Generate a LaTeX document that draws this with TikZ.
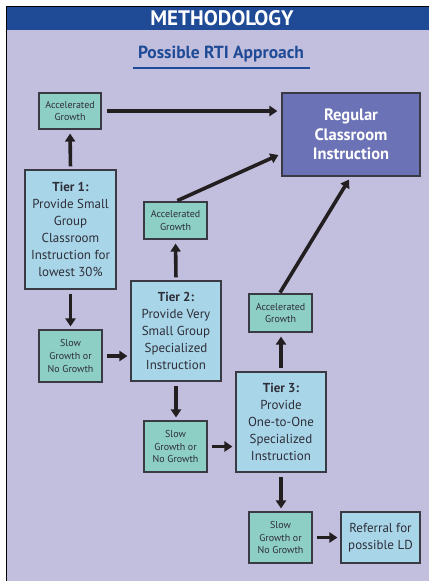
\documentclass[tikz,border=0pt]{standalone}
\usepackage{fontspec}
\setmainfont{PT Sans}
\usetikzlibrary{arrows.meta}
\definecolor{bgc}{HTML}{C2BEDD}
\definecolor{hdr}{HTML}{1F4B96}
\definecolor{tierc}{HTML}{A8D5E8}
\definecolor{growc}{HTML}{8DCFC4}
\definecolor{regc}{HTML}{6B72B5}
\definecolor{edgec}{HTML}{3A3A45}
\definecolor{txtc}{HTML}{2E2E38}
\definecolor{arrc}{HTML}{231F20}
\tikzset{
  tierbox/.style={draw=edgec, line width=1.1pt, fill=tierc, text=txtc, align=center,
    inner sep=0pt, font=\fontsize{13}{17}\selectfont},
  growbox/.style={draw=edgec, line width=1.1pt, fill=growc, text=txtc, align=center,
    inner sep=0pt, font=\fontsize{10}{12.8}\selectfont},
  regbox/.style={draw=edgec, line width=1.1pt, fill=regc, text=white, align=center,
    inner sep=0pt, font=\bfseries\fontsize{16.5}{19.5}\selectfont},
  flow/.style={draw=arrc, line width=3.6pt, -{Triangle[length=8pt,width=10pt]}},
}
\begin{document}
\begin{tikzpicture}[x=1pt,y=-1pt]
\useasboundingbox (0,0) rectangle (429,581);
\fill[white] (0,0) rectangle (429,581);
\fill[bgc] (6,6) rectangle (429,581);
\fill[hdr] (6,6) rectangle (429,30);
\draw[black, line width=1.2pt] (6.6,581) -- (6.6,6.6) -- (429,6.6);
\node[text=white, font=\bfseries\fontsize{21}{24}\selectfont] (title) at (222,18.5) {METHODOLOGY};
\node[text=hdr, font=\bfseries\fontsize{17.5}{20}\selectfont] (sub) at (221,54) {Possible RTI Approach};
\draw[hdr, line width=1.4pt] (133,68) -- (310,68);

\node[growbox, minimum width=62pt, minimum height=36pt] (acc1) at (70,111) {Accelerated\\Growth};
\node[regbox, minimum width=138pt, minimum height=83pt] (reg) at (351,134.5) {Regular\\Classroom\\Instruction};
\node[tierbox, minimum width=91pt, minimum height=119pt] (t1) at (70.5,229.5) {\textbf{Tier 1:}\\Provide Small\\Group\\Classroom\\Instruction for\\lowest 30\%};
\node[growbox, minimum width=63pt, minimum height=37pt] (acc2) at (175.5,220.5) {Accelerated\\Growth};
\node[growbox, minimum width=63pt, minimum height=52pt] (slow1) at (70.5,356) {Slow\\Growth or\\No Growth};
\node[tierbox, minimum width=90pt, minimum height=100pt] (t2) at (176,331) {\textbf{Tier 2:}\\Provide Very\\Small Group\\Specialized\\Instruction};
\node[growbox, minimum width=63pt, minimum height=38pt] (acc3) at (280.5,313) {Accelerated\\Growth};
\node[growbox, minimum width=63pt, minimum height=51pt] (slow2) at (175.5,446.5) {Slow\\Growth or\\No Growth};
\node[tierbox, minimum width=90pt, minimum height=100pt] (t3) at (281,422) {\textbf{Tier 3:}\\Provide\\One-to-One\\Specialized\\Instruction};
\node[growbox, minimum width=63pt, minimum height=51pt] (slow3) at (280.5,537.5) {Slow\\Growth or\\No Growth};
\node[tierbox, minimum width=79pt, minimum height=51pt] (ref) at (380.5,537.5) {Referral for\\possible LD};

\coordinate (r2) at ([xshift=-3pt,yshift=-20.5pt]reg.west);
\coordinate (r3) at ([xshift=-2pt,yshift=-3pt]reg.south);

\draw[flow, shorten <=3pt, shorten >=4pt] (t1.north) -- (acc1.south);
\draw[flow, shorten <=5pt, shorten >=4pt] (acc1.east) -- (reg.west |- acc1.east);
\draw[flow, shorten <=2pt] (acc2.north) -- (r2);
\draw[flow, shorten <=1pt] ([xshift=-1pt]acc3.north) -- (r3);
\draw[flow, shorten <=4pt, shorten >=3pt] (t1.south) -- (slow1.north);
\draw[flow, shorten <=4pt, shorten >=3pt] (slow1.east) -- (t2.west |- slow1.east);
\draw[flow, shorten <=3pt, shorten >=4pt] (t2.north) -- (acc2.south);
\draw[flow, shorten <=4pt, shorten >=3pt] (t2.south) -- (t2.south |- slow2.north);
\draw[flow, shorten <=4pt, shorten >=3pt] (slow2.east) -- (t3.west |- slow2.east);
\draw[flow, shorten <=3pt, shorten >=4pt] (t3.north) -- (t3.north |- acc3.south);
\draw[flow, shorten <=4pt, shorten >=3pt] (t3.south) -- (t3.south |- slow3.north);
\draw[flow, shorten <=4pt, shorten >=3pt] (slow3.east) -- (ref.west);
\end{tikzpicture}
\end{document}
